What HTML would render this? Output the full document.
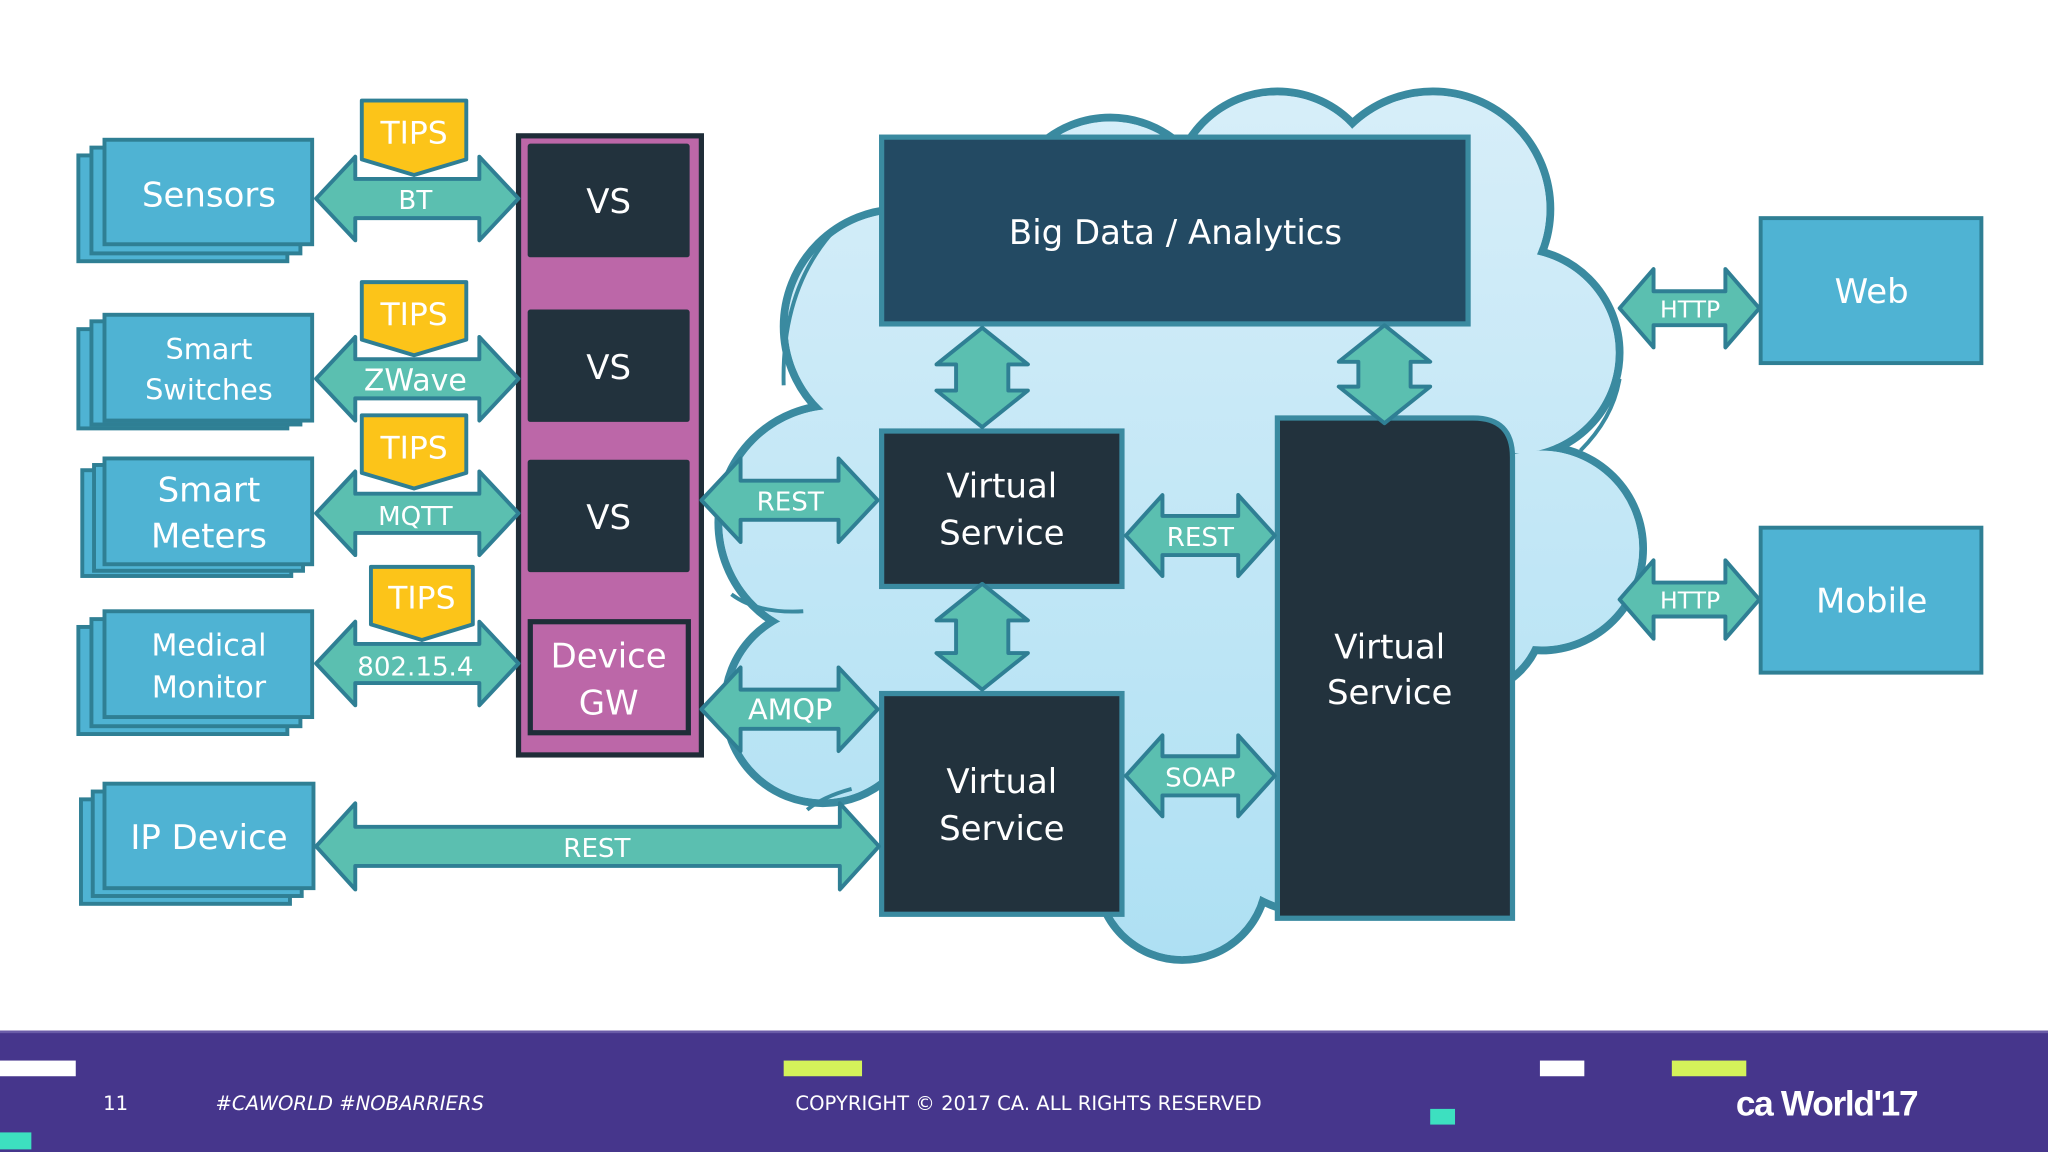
<!DOCTYPE html>
<html><head><meta charset="utf-8"><style>
html,body{margin:0;padding:0;background:#fff;}
svg{display:block;}
text{font-family:"DejaVu Sans","Liberation Sans",sans-serif;fill:#fff;text-anchor:middle;}
</style></head><body>
<svg width="2048" height="1152" viewBox="0 0 1568 882" xmlns="http://www.w3.org/2000/svg">
<defs>
<linearGradient id="cg" gradientUnits="userSpaceOnUse" x1="0" y1="70" x2="0" y2="735"><stop offset="0" stop-color="#d7eef9"/><stop offset="1" stop-color="#aee0f3"/></linearGradient>
</defs>
<rect width="1568" height="882" fill="#fff"/>
<!-- cloud -->
<g stroke="#3a8aa0" stroke-width="6" fill="url(#cg)">
<circle cx="690" cy="250" r="90"/><circle cx="850" cy="170" r="80"/><circle cx="978" cy="150" r="80"/>
<circle cx="1097" cy="160" r="90"/><circle cx="1160" cy="270" r="80"/><circle cx="1180" cy="420" r="78"/>
<circle cx="1120" cy="470" r="62"/><circle cx="905" cy="670" r="65"/><circle cx="1010" cy="600" r="100"/>
<circle cx="640" cy="400" r="90"/><circle cx="630" cy="540" r="75"/><circle cx="780" cy="600" r="90"/>
</g>
<g fill="url(#cg)">
<circle cx="690" cy="250" r="87"/><circle cx="850" cy="170" r="77"/><circle cx="978" cy="150" r="77"/>
<circle cx="1097" cy="160" r="87"/><circle cx="1160" cy="270" r="77"/><circle cx="1180" cy="420" r="75"/>
<circle cx="1120" cy="470" r="59"/><circle cx="905" cy="670" r="62"/><circle cx="1010" cy="600" r="97"/>
<circle cx="640" cy="400" r="87"/><circle cx="630" cy="540" r="72"/><circle cx="780" cy="600" r="87"/>
<circle cx="900" cy="400" r="260"/>
</g>
<g fill="none" stroke="#3a8aa0" stroke-width="3">
<path d="M600,295 Q598,220 640,175"/><path d="M1210,345 Q1235,320 1240,290"/><path d="M615,468 Q580,470 560,455"/><path d="M652,604 Q630,610 618,620"/>
</g>
<!-- left stacked nodes -->
<g stroke="#2f7f94" stroke-width="3" fill="#4fb3d3">
<rect x="60" y="119" width="160" height="81"/><rect x="70" y="113" width="160" height="81"/><rect x="80" y="107" width="159" height="80"/>
<rect x="60" y="252" width="160" height="76"/><rect x="70" y="246" width="160" height="79"/><rect x="80" y="241" width="159" height="81"/>
<rect x="63" y="360" width="160" height="81"/><rect x="72" y="356" width="160" height="81"/><rect x="80" y="351" width="159" height="81"/>
<rect x="60" y="480" width="160" height="82"/><rect x="70" y="474" width="160" height="82"/><rect x="80" y="468" width="159" height="81"/>
<rect x="62" y="612" width="160" height="80"/><rect x="71" y="606" width="160" height="80"/><rect x="80" y="600" width="160" height="80"/>
<rect x="1348" y="167" width="169" height="111"/><rect x="1348" y="404" width="169" height="111"/>
</g>
<g font-size="26">
<text x="160" y="158">Sensors</text>
<text x="160" y="275" font-size="22">Smart</text><text x="160" y="306" font-size="22">Switches</text>
<text x="160" y="384">Smart</text><text x="160" y="419">Meters</text>
<text x="160" y="502" font-size="23">Medical</text><text x="160" y="534" font-size="23">Monitor</text>
<text x="160" y="650">IP Device</text>
<text x="1433" y="232">Web</text><text x="1433" y="469">Mobile</text>
</g>
<!-- purple column -->
<rect x="397" y="104" width="140" height="474" fill="#bc67a8" stroke="#1f2d38" stroke-width="4"/>
<g fill="#22323d"><rect x="404" y="110" width="124" height="87" rx="2"/><rect x="404" y="237" width="124" height="86" rx="2"/><rect x="404" y="352" width="124" height="86" rx="2"/></g>
<rect x="406" y="476" width="121" height="85" fill="#bc67a8" stroke="#1f2d38" stroke-width="4"/>
<g font-size="26"><text x="466" y="163">VS</text><text x="466" y="290">VS</text><text x="466" y="405">VS</text>
<text x="466" y="511">Device</text><text x="466" y="547">GW</text></g>
<!-- cloud boxes -->
<rect x="675" y="105" width="449" height="143" fill="#234a63" stroke="#3a8aa0" stroke-width="4"/>
<rect x="675" y="330" width="184" height="119" fill="#22323d" stroke="#3a8aa0" stroke-width="4"/>
<rect x="675" y="531" width="184" height="169" fill="#22323d" stroke="#3a8aa0" stroke-width="4"/>
<path d="M978,320 L1128,320 Q1158,320 1158,350 L1158,703 L978,703 Z" fill="#22323d" stroke="#3a8aa0" stroke-width="4"/>
<g font-size="26"><text x="900" y="187">Big Data / Analytics</text>
<text x="767" y="381">Virtual</text><text x="767" y="417">Service</text>
<text x="767" y="607">Virtual</text><text x="767" y="643">Service</text>
<text x="1064" y="504">Virtual</text><text x="1064" y="539">Service</text></g>
<!-- arrows -->
<g fill="#5bbfb0" stroke="#2f7f94" stroke-width="3" stroke-linejoin="round">
<path d="M242,152 L272,120 L272,137 L367,137 L367,120 L397,152 L367,184 L367,167 L272,167 L272,184 Z"/>
<path d="M242,290 L272,258 L272,275 L367,275 L367,258 L397,290 L367,322 L367,305 L272,305 L272,322 Z"/>
<path d="M242,393 L272,361 L272,378 L367,378 L367,361 L397,393 L367,425 L367,408 L272,408 L272,425 Z"/>
<path d="M242,508 L272,476 L272,493 L367,493 L367,476 L397,508 L367,540 L367,523 L272,523 L272,540 Z"/>
<path d="M242,648 L272,615 L272,633 L643,633 L643,615 L673,648 L643,681 L643,663 L272,663 L272,681 Z"/>
<path d="M537,383 L567,351 L567,368 L642,368 L642,351 L672,383 L642,415 L642,398 L567,398 L567,415 Z"/>
<path d="M537,543 L567,511 L567,528 L642,528 L642,511 L672,543 L642,575 L642,558 L567,558 L567,575 Z"/>
<path d="M862,410 L890,379 L890,395 L948,395 L948,379 L976,410 L948,441 L948,425 L890,425 L890,441 Z"/>
<path d="M862,594 L890,563 L890,579 L948,579 L948,563 L976,594 L948,625 L948,609 L890,609 L890,625 Z"/>
<path d="M1240,236 L1266,206 L1266,223 L1321,223 L1321,206 L1347,236 L1321,266 L1321,249 L1266,249 L1266,266 Z"/>
<path d="M1240,459 L1266,429 L1266,446 L1321,446 L1321,429 L1347,459 L1321,489 L1321,472 L1266,472 L1266,489 Z"/>
<path d="M752,251 L787,279 L772,279 L772,299 L787,299 L752,327 L717,299 L732,299 L732,279 L717,279 Z"/>
<path d="M752,447 L787,475 L772,475 L772,500 L787,500 L752,528 L717,500 L732,500 L732,475 L717,475 Z"/>
<path d="M1060,249 L1095,277 L1080,277 L1080,296 L1095,296 L1060,324 L1025,296 L1040,296 L1040,277 L1025,277 Z"/>
</g>
<g font-size="20"><text x="318" y="160">BT</text><text x="318" y="299" font-size="23">ZWave</text><text x="318" y="402">MQTT</text>
<text x="318" y="517">802.15.4</text><text x="457" y="656">REST</text><text x="605" y="391">REST</text><text x="605" y="551" font-size="22">AMQP</text>
<text x="919" y="418">REST</text><text x="919" y="602">SOAP</text><text x="1294" y="243" font-size="18">HTTP</text><text x="1294" y="466" font-size="18">HTTP</text></g>
<!-- TIPS -->
<g fill="#fcc419" stroke="#2f7f94" stroke-width="3" stroke-linejoin="round">
<path d="M277,77 L357,77 L357,122 L317,134 L277,122 Z"/>
<path d="M277,216 L357,216 L357,260 L317,272 L277,260 Z"/>
<path d="M277,318 L357,318 L357,362 L317,374 L277,362 Z"/>
<path d="M284,434 L362,434 L362,478 L323,490 L284,478 Z"/>
</g>
<g font-size="24"><text x="317" y="110">TIPS</text><text x="317" y="249">TIPS</text><text x="317" y="351">TIPS</text><text x="323" y="466">TIPS</text></g>
<!-- footer -->
<rect x="0" y="789" width="1568" height="93" fill="#46368c"/>
<rect x="0" y="789" width="1568" height="2" fill="#6a5ca8"/>
<rect x="0" y="812" width="58" height="12" fill="#fff"/><rect x="600" y="812" width="60" height="12" fill="#d4f25a"/>
<rect x="1179" y="812" width="34" height="12" fill="#fff"/><rect x="1280" y="812" width="57" height="12" fill="#d4f25a"/>
<rect x="1095" y="849" width="19" height="12" fill="#3de0c0"/><rect x="0" y="867" width="24" height="13" fill="#3de0c0"/>
<g font-size="15">
<text x="79" y="850" style="text-anchor:start">11</text>
<text x="165" y="850" font-style="italic" style="text-anchor:start">#CAWORLD   #NOBARRIERS</text>
<text x="609" y="850" style="text-anchor:start">COPYRIGHT © 2017 CA. ALL RIGHTS RESERVED</text>
<text x="1329" y="854" font-size="27" font-weight="bold" style="text-anchor:start;font-family:'Liberation Sans',sans-serif;letter-spacing:-1px">ca World'17</text>
</g>
</svg>
</body></html>
